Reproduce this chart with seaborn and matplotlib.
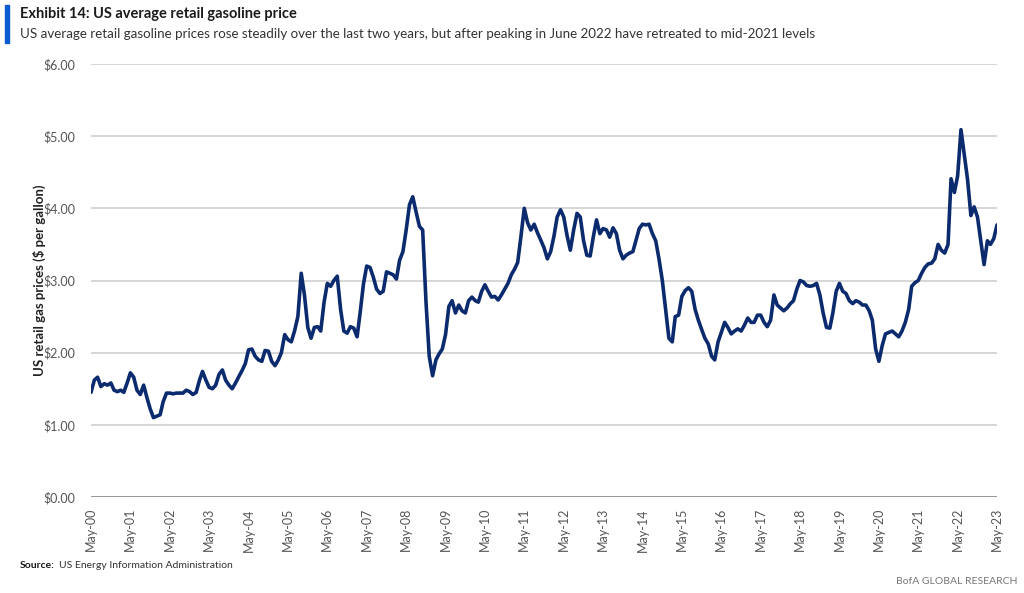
import matplotlib
matplotlib.use("Agg")
import matplotlib.pyplot as plt
import matplotlib.dates as mdates
from matplotlib.ticker import FuncFormatter
import seaborn as sns
import pandas as pd
import numpy as np

# Monthly US average retail gasoline price (all grades, $/gal)
p2000 = [1.45, 1.62, 1.66, 1.53, 1.57, 1.55, 1.58, 1.48]  # May-Dec
p2001 = [1.46, 1.48, 1.45, 1.58, 1.72, 1.66, 1.48, 1.42, 1.55, 1.38, 1.22, 1.10]
p2002 = [1.12, 1.14, 1.32, 1.44, 1.44, 1.43, 1.44, 1.44, 1.44, 1.48, 1.46, 1.42]
p2003 = [1.45, 1.62, 1.74, 1.62, 1.52, 1.50, 1.55, 1.70, 1.76, 1.62, 1.55, 1.50]
p2004 = [1.58, 1.67, 1.75, 1.85, 2.04, 2.05, 1.95, 1.90, 1.88, 2.03, 2.02, 1.88]
p2005 = [1.82, 1.90, 2.00, 2.25, 2.18, 2.15, 2.30, 2.50, 3.10, 2.80, 2.35, 2.20]
p2006 = [2.35, 2.36, 2.30, 2.70, 2.96, 2.92, 3.00, 3.06, 2.60, 2.30, 2.27, 2.36]
p2007 = [2.34, 2.22, 2.55, 2.95, 3.20, 3.18, 3.05, 2.88, 2.82, 2.85, 3.12, 3.10]
p2008 = [3.08, 3.02, 3.28, 3.40, 3.70, 4.05, 4.16, 3.95, 3.75, 3.70, 2.70, 1.95]
p2009 = [1.68, 1.90, 1.98, 2.05, 2.25, 2.64, 2.72, 2.55, 2.66, 2.58, 2.55, 2.72]
p2010 = [2.77, 2.72, 2.70, 2.85, 2.94, 2.85, 2.77, 2.78, 2.73, 2.80, 2.88, 2.96]
p2011 = [3.08, 3.16, 3.25, 3.62, 4.00, 3.80, 3.70, 3.78, 3.66, 3.56, 3.45, 3.30]
p2012 = [3.40, 3.62, 3.88, 3.98, 3.88, 3.62, 3.42, 3.70, 3.93, 3.88, 3.55, 3.35]
p2013 = [3.34, 3.62, 3.84, 3.65, 3.72, 3.70, 3.60, 3.73, 3.65, 3.42, 3.30, 3.35]
p2014 = [3.38, 3.40, 3.55, 3.72, 3.78, 3.77, 3.78, 3.65, 3.55, 3.30, 3.00, 2.60]
p2015 = [2.20, 2.15, 2.50, 2.52, 2.78, 2.86, 2.90, 2.85, 2.60, 2.45, 2.32, 2.20]
p2016 = [2.12, 1.95, 1.90, 2.15, 2.28, 2.42, 2.35, 2.26, 2.30, 2.33, 2.30, 2.38]
p2017 = [2.48, 2.42, 2.42, 2.52, 2.52, 2.42, 2.36, 2.45, 2.80, 2.66, 2.62, 2.58]
p2018 = [2.62, 2.68, 2.72, 2.88, 3.00, 2.98, 2.93, 2.92, 2.93, 2.96, 2.80, 2.55]
p2019 = [2.35, 2.34, 2.55, 2.85, 2.96, 2.85, 2.82, 2.72, 2.68, 2.72, 2.70, 2.66]
p2020 = [2.66, 2.58, 2.45, 2.05, 1.88, 2.10, 2.26, 2.28, 2.30, 2.26, 2.22, 2.30]
p2021 = [2.42, 2.60, 2.92, 2.97, 3.00, 3.10, 3.18, 3.23, 3.24, 3.30, 3.50, 3.42]
p2022 = [3.38, 3.50, 4.41, 4.22, 4.45, 5.09, 4.75, 4.40, 3.90, 4.02, 3.88, 3.55]
p2023 = [3.22, 3.55, 3.50, 3.58, 3.77]  # Jan-May

y_ticks = [0, 1, 2, 3, 4, 5, 6]
x_tick_years = list(range(2000, 2024))

prices = (p2000 + p2001 + p2002 + p2003 + p2004 + p2005 + p2006 + p2007 + p2008
          + p2009 + p2010 + p2011 + p2012 + p2013 + p2014 + p2015 + p2016 + p2017
          + p2018 + p2019 + p2020 + p2021 + p2022 + p2023)
dates = pd.date_range("2000-05-01", periods=len(prices), freq="MS")
df = pd.DataFrame({"date": dates, "price": prices})

sns.set_style("white")
FONT = ["Lato", "DejaVu Sans"]
plt.rcParams["font.family"] = FONT

fig = plt.figure(figsize=(10.24, 5.93), dpi=100)
ax = fig.add_axes([91 / 1024, 1 - 497 / 593, (997 - 91) / 1024, (497 - 64) / 593])

NAVY = "#0B2B6E"
sns.lineplot(data=df, x="date", y="price", ax=ax, color=NAVY, linewidth=2.6,
             legend=False)

ax.set_ylim(0, 6)
ax.set_yticks(y_ticks)
ax.yaxis.set_major_formatter(FuncFormatter(lambda v, p: f"${v:.2f}"))
ax.set_xlim(pd.Timestamp("2000-05-01"), pd.Timestamp("2023-05-01"))
ax.set_xticks([pd.Timestamp(f"{y}-05-01") for y in x_tick_years])
ax.xaxis.set_major_formatter(mdates.DateFormatter("%b-%y"))

for v in y_ticks[1:]:
    ax.axhline(v, color="#D3D3D3", linewidth=1.3, zorder=0)
ax.axhline(0, color="#8C8C8C", linewidth=2.0, zorder=1)

for s in ax.spines.values():
    s.set_visible(False)

ax.tick_params(axis="both", length=0, colors="#555555", labelsize=9)
ax.tick_params(axis="y", pad=11)
ax.tick_params(axis="x", pad=8)
for lbl in ax.get_xticklabels():
    lbl.set_rotation(90)
ax.grid(False)

ax.set_xlabel("")
ax.set_ylabel("US retail gas prices ($ per gallon)", fontsize=9.5, fontweight="bold",
              color="#222222", labelpad=-2)

# Title block
fig.patches.append(plt.Rectangle((5 / 1024, 1 - 43 / 593), 4 / 1024, 38 / 593,
                                 transform=fig.transFigure, color="#0A5AD2"))
fig.text(20 / 1024, 1 - 14 / 593, "Exhibit 14: US average retail gasoline price",
         fontsize=10.5, fontweight="bold", color="#1A1A1A", va="center", ha="left")
fig.text(20 / 1024, 1 - 34 / 593,
         "US average retail gasoline prices rose steadily over the last two years, but after peaking in June 2022 have retreated to mid-2021 levels",
         fontsize=9.6, color="#333333", va="center", ha="left")

src = fig.text(20 / 1024, 1 - 566 / 593, "Source:", fontsize=7.5, fontweight="bold",
               color="#1A1A1A", va="center", ha="left")
fig.canvas.draw()
bb = src.get_window_extent(renderer=fig.canvas.get_renderer())
fig.text((bb.x1 + 4) / 1024, 1 - 566 / 593, "US Energy Information Administration",
         fontsize=7.5, color="#333333", va="center", ha="left")
fig.text(1018 / 1024, 1 - 582 / 593, "BofA GLOBAL RESEARCH", fontsize=7.5,
         color="#777777", va="center", ha="right")

fig.savefig("out.png", dpi=100)
